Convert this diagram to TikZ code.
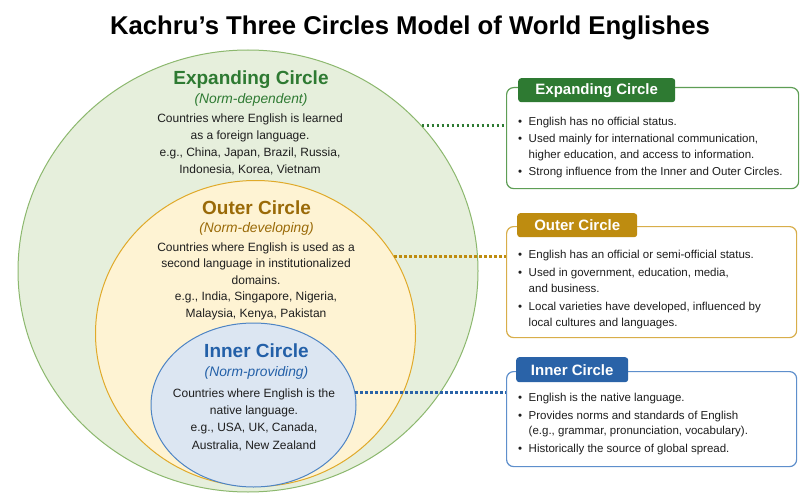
\documentclass[tikz,border=0pt]{standalone}
\usepackage{fontspec}
\setmainfont{Liberation Sans}
\usetikzlibrary{shapes.geometric}
\definecolor{gDark}{HTML}{2E7A32}
\definecolor{gFill}{HTML}{E6EFDC}
\definecolor{gLine}{HTML}{8CB86E}
\definecolor{gBox}{HTML}{5E9E55}
\definecolor{yDark}{HTML}{9A6A08}
\definecolor{yFill}{HTML}{FEF3D3}
\definecolor{yLine}{HTML}{E0AA2A}
\definecolor{yTab}{HTML}{BE8C10}
\definecolor{yBox}{HTML}{D8AE4A}
\definecolor{bDark}{HTML}{2360A8}
\definecolor{bFill}{HTML}{DCE6F2}
\definecolor{bLine}{HTML}{4E84C4}
\definecolor{bTab}{HTML}{2A63A8}
\definecolor{bBox}{HTML}{5E8FCC}
\definecolor{bodyText}{HTML}{1E1E1E}
\tikzset{
  circ/.style={ellipse, line width=1pt, inner sep=0pt},
  ctitle/.style={font=\fontsize{19}{21}\selectfont\bfseries, anchor=base, inner sep=0pt},
  csub/.style={font=\fontsize{13.8}{15}\selectfont\itshape, anchor=base, inner sep=0pt},
  cbody/.style={font=\fontsize{12}{17.2}\selectfont, anchor=base, inner sep=0pt, text=bodyText},
  infobox/.style={draw, line width=1.2pt, rounded corners=7pt, fill=white, anchor=north west, inner sep=0pt},
  tabbox/.style={rounded corners=3pt, text=white, font=\fontsize{15}{17}\selectfont\bfseries, anchor=north west, inner sep=0pt, align=center},
  blist/.style={font=\fontsize{11.5}{15.5}\selectfont, anchor=base west, inner sep=0pt, text=bodyText},
  link/.style={line width=2.4pt, dash pattern=on 2.4pt off 2.6pt},
}
\newcommand{\bl}{\textbullet}
\begin{document}
\begin{tikzpicture}[x=1pt,y=-1pt]
\useasboundingbox (0,0) rectangle (805,500);
\fill[white] (0,0) rectangle (805,500);

\node[font=\fontsize{25.7}{28}\selectfont\bfseries, anchor=base, inner sep=0pt] (title) at (410,35) {Kachru’s Three Circles Model of World Englishes};

% circles
\node[circ, draw=gLine, fill=gFill, minimum width=460pt, minimum height=442pt] (exp) at (248,271) {};
\node[circ, draw=yLine, fill=yFill, minimum width=320pt, minimum height=306pt] (out) at (255.5,333.5) {};
\node[circ, draw=bLine, fill=bFill, minimum width=205pt, minimum height=164pt] (inn) at (253.5,405) {};

% circle texts
\node[ctitle, text=gDark] (expT) at (251,85) {Expanding Circle};
\node[csub, text=gDark] (expS) at (251,104) {(Norm-dependent)};
\node[cbody] (expB) at (250,122.3) {\begin{tabular}[t]{@{}c@{}}Countries where English is learned\\as a foreign language.\\e.g., China, Japan, Brazil, Russia,\\Indonesia, Korea, Vietnam\end{tabular}};

\node[ctitle, text=yDark] (outT) at (256.5,214) {Outer Circle};
\node[csub, text=yDark] (outS) at (256.5,232) {(Norm-developing)};
\node[cbody, font=\fontsize{12}{16.5}\selectfont] (outB) at (256,251.3) {\begin{tabular}[t]{@{}c@{}}Countries where English is used as a\\second language in institutionalized\\domains.\\e.g., India, Singapore, Nigeria,\\Malaysia, Kenya, Pakistan\end{tabular}};

\node[ctitle, text=bDark] (innT) at (256.5,357) {Inner Circle};
\node[csub, text=bDark] (innS) at (256.5,376) {(Norm-providing)};
\node[cbody, font=\fontsize{12}{17.3}\selectfont] (innB) at (254,397.3) {\begin{tabular}[t]{@{}c@{}}Countries where English is the\\native language.\\e.g., USA, UK, Canada,\\Australia, New Zealand\end{tabular}};

% info boxes
\node[infobox, draw=gBox, minimum width=292pt, minimum height=101pt] (expBox) at (506,87) {};
\node[tabbox, fill=gDark, minimum width=157pt, minimum height=24pt] (expTab) at (518,78) {Expanding Circle};
\node[blist] (expL) at (518,125) {\begin{tabular}[t]{@{}l@{\hspace{6.5pt}}l@{}}\bl & English has no official status.\\[2pt]
\bl & Used mainly for international communication,\\ & higher education, and access to information.\\[2pt]
\bl & Strong influence from the Inner and Outer Circles.\end{tabular}};

\node[infobox, draw=yBox, minimum width=290pt, minimum height=111pt] (outBox) at (506,226) {};
\node[tabbox, fill=yTab, minimum width=120pt, minimum height=24pt] (outTab) at (517,213) {Outer Circle};
\node[blist] (outL) at (518,258) {\begin{tabular}[t]{@{}l@{\hspace{6.5pt}}l@{}}\bl & English has an official or semi-official status.\\[3pt]
\bl & Used in government, education, media,\\ & and business.\\[3pt]
\bl & Local varieties have developed, influenced by\\ & local cultures and languages.\end{tabular}};

\node[infobox, draw=bBox, minimum width=290pt, minimum height=95pt] (innBox) at (506,371) {};
\node[tabbox, fill=bTab, minimum width=112pt, minimum height=25pt] (innTab) at (516,357) {Inner Circle};
\node[blist] (innL) at (518,401) {\begin{tabular}[t]{@{}l@{\hspace{6.5pt}}l@{}}\bl & English is the native language.\\[2.5pt]
\bl & Provides norms and standards of English\\ & (e.g., grammar, pronunciation, vocabulary).\\[2.5pt]
\bl & Historically the source of global spread.\end{tabular}};

% connectors
\draw[link, draw=gDark] (exp.40.9) -- (expBox.west |- exp.40.9);
\draw[link, draw=yTab] (out.29.7) -- (outBox.west |- out.29.7);
\draw[link, draw=bTab] (inn.7.9) -- (innBox.west |- inn.7.9);
\end{tikzpicture}
\end{document}
